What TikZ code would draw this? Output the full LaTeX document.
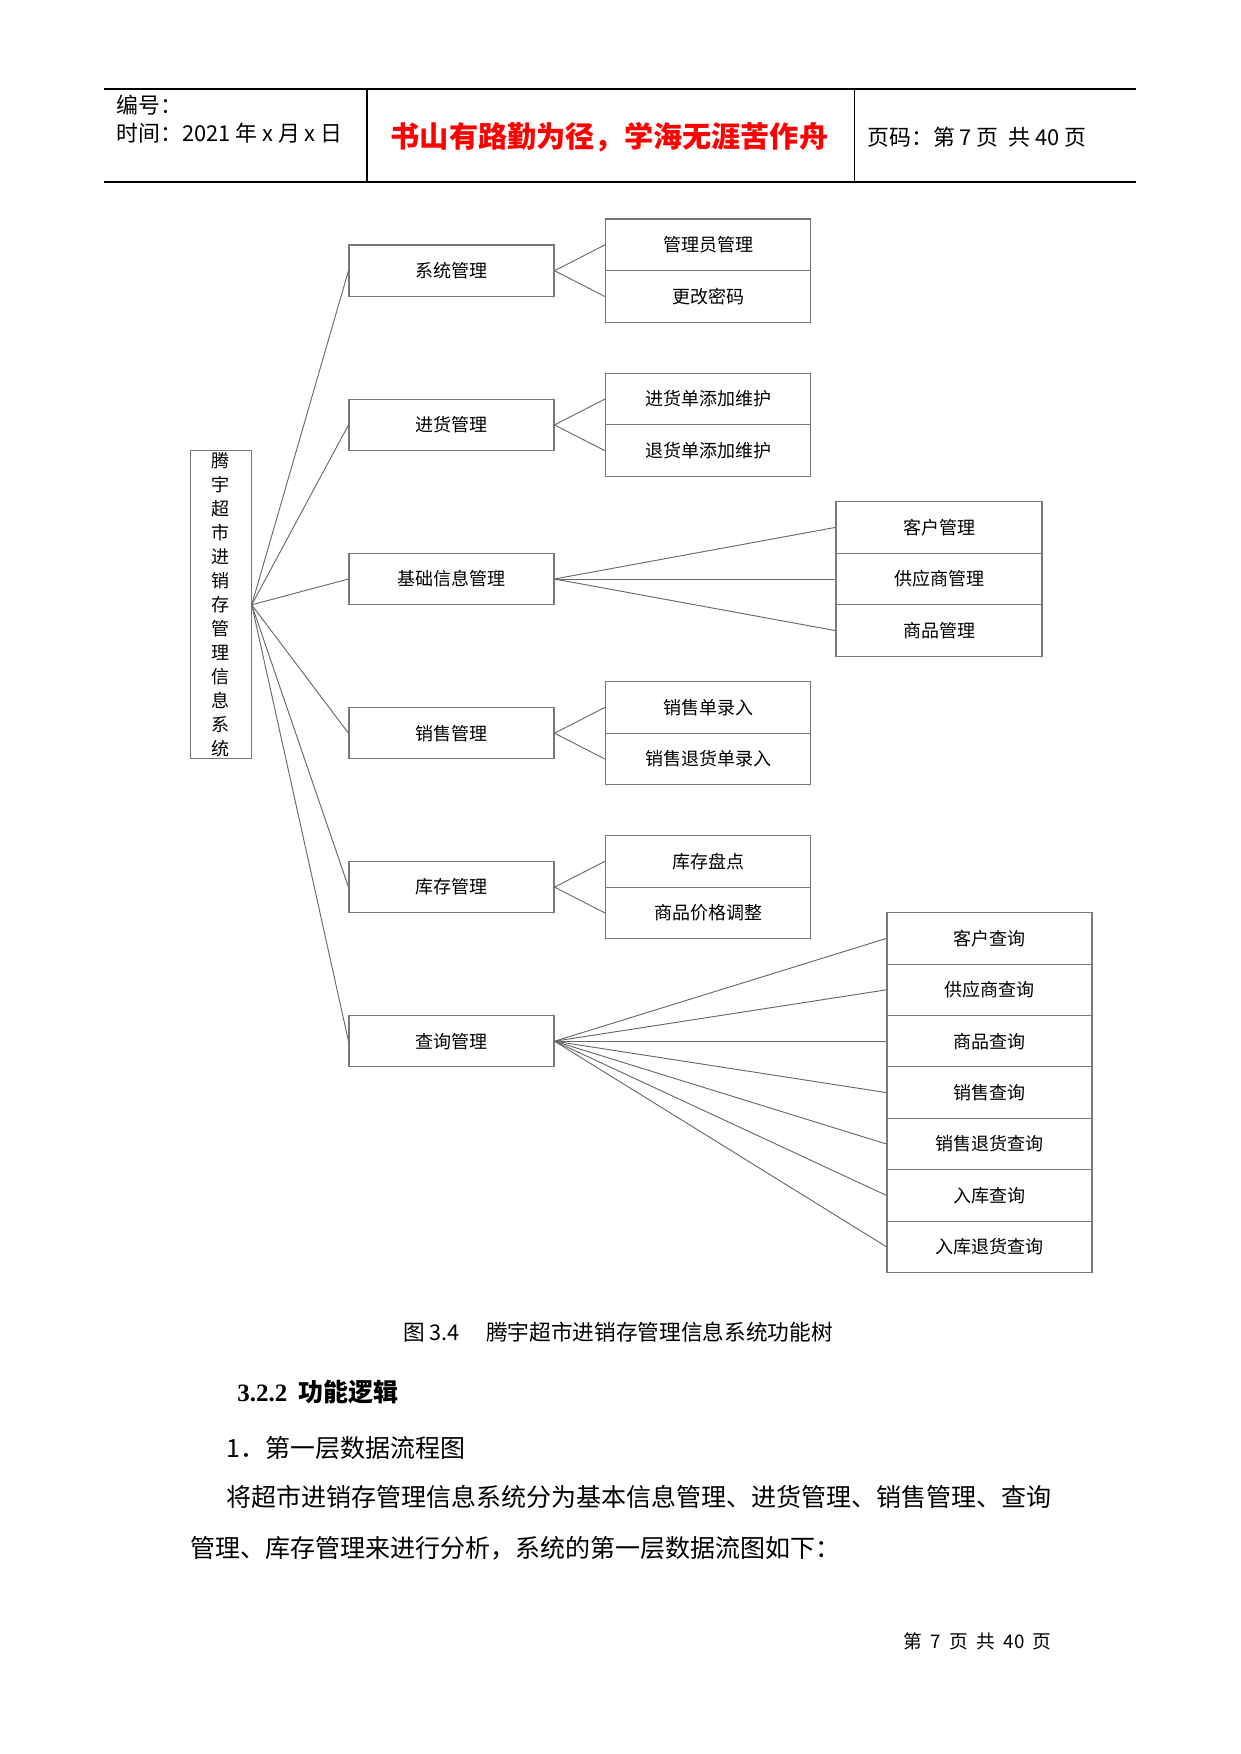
\documentclass[tikz,border=0pt]{standalone}
\usepackage{fontspec}
\setmainfont{Noto Sans CJK SC}
\newfontfamily\serifnum{Liberation Serif}
\definecolor{boxgray}{RGB}{120,120,120}
\definecolor{conngray}{RGB}{105,105,105}
\definecolor{headred}{RGB}{255,0,0}
\def\PX{0.48pt}
\begin{document}
\begin{tikzpicture}[x=0.48pt,y=-0.48pt,
  box/.style={draw=boxgray, line width=0.5pt, minimum width=205*\PX, minimum height=51.4*\PX, inner sep=0pt, font=\fontsize{8.64pt}{10pt}\selectfont},
  cbox/.style={box, minimum height=51.7*\PX},
  conn/.style={draw=conngray, line width=0.45pt},
  txt/.style={inner sep=0pt, anchor=west},
  headline/.style={line width=0.8pt, draw=black}]
\fill[white] (0,0) rectangle (1241,1754);
\useasboundingbox (0,0) rectangle (1241,1754);
% header
\draw[headline] (104,89.3) -- (1136,89.3);
\draw[headline] (104,182.3) -- (1136,182.3);
\draw[headline] (367,89.3) -- (367,182.3);
\draw[line width=0.45pt] (854.3,89.3) -- (854.3,182.3);
\node[txt, font=\fontsize{10.5pt}{12pt}\selectfont] (bh) at (116,105) {编号：};
\node[txt, font=\fontsize{10.5pt}{12pt}\selectfont] (sj) at (116,133) {时间：2021 年 x 月 x 日};
\node[inner sep=0pt, text=headred, font=\fontsize{14pt}{16pt}\selectfont\bfseries] (motto) at (609.5,137) {书山有路勤为径，学海无涯苦作舟};
\node[txt, font=\fontsize{10.5pt}{12pt}\selectfont] (ym) at (867,137) {页码：第 7 页\ \ 共 40 页};
% root
\node[box, minimum width=61*\PX, minimum height=308.3*\PX, align=center, font=\fontsize{8.64pt}{11.52pt}\selectfont] (root) at (220.7,604.8) {腾\\宇\\超\\市\\进\\销\\存\\管\\理\\信\\息\\系\\统};
% level 1
\node[box] (s) at (451.5,270.7) {系统管理};
\node[box] (j) at (451.5,424.9) {进货管理};
\node[box] (b) at (451.5,579.0) {基础信息管理};
\node[box] (x) at (451.5,733.2) {销售管理};
\node[box] (k) at (451.5,887.1) {库存管理};
\node[box] (q) at (451.5,1041.2) {查询管理};
% level 2, two-child groups
\node[cbox] (s1) at (708,244.85) {管理员管理};
\node[cbox] (s2) at (708,296.55) {更改密码};
\node[cbox] (j1) at (708,399.05) {进货单添加维护};
\node[cbox] (j2) at (708,450.75) {退货单添加维护};
\node[cbox] (x1) at (708,707.35) {销售单录入};
\node[cbox] (x2) at (708,759.05) {销售退货单录入};
\node[cbox] (k1) at (708,861.25) {库存盘点};
\node[cbox] (k2) at (708,912.95) {商品价格调整};
% basic info children
\node[cbox, minimum width=206*\PX, minimum height=51.6*\PX] (b1) at (939,527.4) {客户管理};
\node[cbox, minimum width=206*\PX, minimum height=51.6*\PX] (b2) at (939,579.0) {供应商管理};
\node[cbox, minimum width=206*\PX, minimum height=51.6*\PX] (b3) at (939,630.6) {商品管理};
% query children
\node[box] (q1) at (989.5,938.4) {客户查询};
\node[box] (q2) at (989.5,989.8) {供应商查询};
\node[box] (q3) at (989.5,1041.2) {商品查询};
\node[box] (q4) at (989.5,1092.6) {销售查询};
\node[box] (q5) at (989.5,1144.0) {销售退货查询};
\node[box] (q6) at (989.5,1195.4) {入库查询};
\node[box] (q7) at (989.5,1246.8) {入库退货查询};
% connectors
\foreach \n in {s,j,b,x,k,q} \draw[conn] (root.east) -- (\n.west);
\foreach \p in {s,j,x,k} {
  \draw[conn] (\p.east) -- (\p1.west);
  \draw[conn] (\p.east) -- (\p2.west);
}
\foreach \i in {1,2,3} \draw[conn] (b.east) -- (b\i.west);
\foreach \i in {1,...,7} \draw[conn] (q.east) -- (q\i.west);
% caption and text
\node[txt, font=\fontsize{10.4pt}{12pt}\selectfont] (cap) at (403,1332) {图 3.4\hspace{1.2em}腾宇超市进销存管理信息系统功能树};
\node[txt, font=\fontsize{12pt}{14pt}\selectfont\bfseries] (h322) at (237,1392) {{\serifnum 3.2.2}\ \ 功能逻辑};
\node[txt, font=\fontsize{12pt}{14pt}\selectfont] (p0) at (226,1448) {1．第一层数据流程图};
\node[txt, font=\fontsize{12pt}{14pt}\selectfont] (p1) at (226,1497) {将超市进销存管理信息系统分为基本信息管理、进货管理、销售管理、查询};
\node[txt, font=\fontsize{12pt}{14pt}\selectfont] (p2) at (190,1548) {管理、库存管理来进行分析，系统的第一层数据流图如下：};
\node[txt, font=\fontsize{9pt}{11pt}\selectfont] (foot) at (903,1641) {第\ \ 7\ \ 页\ \ 共\ \ 40\ \ 页};
\end{tikzpicture}
\end{document}
